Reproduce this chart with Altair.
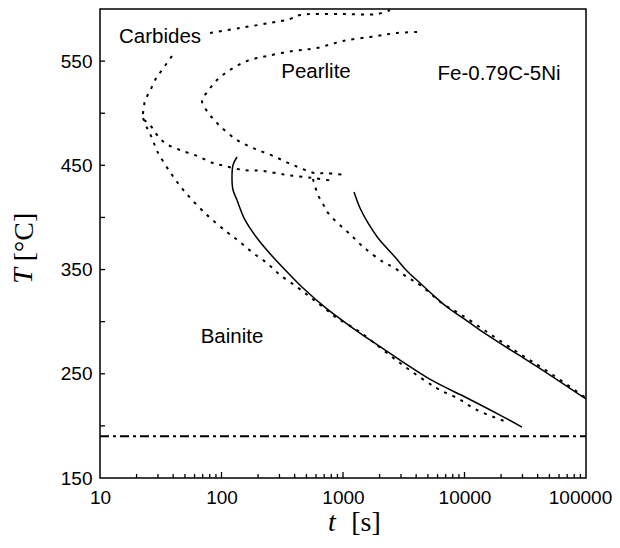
import altair as alt
import pandas as pd

# ---------------- data ----------------
# Carbides C-curve, upper branch (to the right of the label)
carb_up_t = [80.4, 142.0, 250.7, 366.3, 442.8, 944.8, 1905, 2437]
carb_up_T = [577.0, 581.8, 586.6, 590.4, 594.2, 595.2, 595.2, 599.0]
# Carbides C-curve, nose and lower branch
carb_t = [39.1, 32.4, 28.4, 25.8, 23.5, 23.0, 22.6, 25.8, 29.5, 34.3, 45.5,
          62.9, 85.1, 106.9, 150.3, 219.6, 346.0, 566.0, 827.5]
carb_T = [554.9, 541.5, 531.9, 521.3, 512.7, 505.0, 495.4, 488.7, 479.1, 471.4,
          464.7, 459.0, 452.2, 449.4, 445.5, 444.6, 440.7, 437.9, 435.0]
# Pearlite C-curve
pear_t = [4066, 2783, 1905, 1000, 611, 387.8, 236.9, 162.1, 117.5, 91.8, 77.4,
          69.1, 80.4, 97.2, 134.1, 181.6, 265.4, 387.8, 588.3, 738.5, 1038.7]
pear_T = [577.9, 577.0, 574.1, 569.3, 562.6, 559.7, 554.9, 550.1, 541.5, 531.9,
          521.3, 511.7, 498.3, 487.7, 474.3, 466.6, 459.0, 450.3, 442.6, 442.6, 440.7]
# Bainite, dotted curve (left)
bd1_t = [22.6, 24.4, 26.8, 29.5, 37.7, 50.1, 76.0, 111.0, 142.0, 181.6, 236.9,
         303.0, 418.3, 535.0, 684.7, 892.5, 1304, 1766, 2945, 4913, 6285, 8675,
         12678, 22381]
bd1_T = [495.4, 485.8, 476.2, 463.8, 443.6, 424.4, 402.3, 386.0, 376.4, 365.9,
         356.3, 344.8, 333.3, 323.7, 314.1, 303.5, 292.0, 280.5, 260.3, 242.1,
         234.4, 226.8, 215.2, 203.7]
# Bainite, solid curve (left)
bs1_t = [134.1, 124.4, 122.0, 124.4, 134.1, 156.1, 195.9, 265.4, 366.3, 468.7,
         738.5, 1141.8, 1766, 2945, 5505, 10486, 19596, 29730]
bs1_T = [458.0, 450.3, 437.9, 426.3, 416.7, 397.6, 380.3, 362.0, 344.8, 332.3,
         312.2, 295.8, 280.5, 263.2, 243.1, 226.8, 210.4, 198.9]
# Bainite, dotted curve (right)
bd2_t = [566, 622.7, 684.7, 752.6, 1000, 1186, 1380, 1576, 2134, 2579, 3363,
         4303, 6653, 9183, 15316, 27050, 47750, 100000]
bd2_T = [436.9, 421.5, 412.9, 404.3, 389.9, 382.2, 374.5, 368.8, 357.3, 352.5,
         342.9, 335.2, 317.0, 307.4, 290.1, 270.9, 252.7, 226.8]
# Bainite, solid curve (right)
bs2_t = [1231.6, 1380, 1606, 1942, 2679, 3363, 4303, 5505, 7178,
         9720, 13418, 27050, 47750, 100000]
bs2_T = [424.4, 409.1, 394.7, 380.3, 362.0, 348.6, 337.1, 325.6, 314.1,
         303.5, 292.0, 269.0, 250.7, 225.8]
# Ms line
ms_t = [10, 100000]
ms_T = [190, 190]

# labels inside the plot
lab_text = ["Carbides", "Pearlite", "Fe-0.79C-5Ni", "Bainite"]
lab_t = [31.2, 599.6, 19230, 122.0]
lab_T = [567.4, 533.8, 531.9, 279.5]

# tick values
x_labels = [10, 100, 1000, 10000, 100000]
y_labels = [150, 250, 350, 450, 550]
y_ticks = [200, 250, 300, 350, 400, 450, 500, 550]
x_major = [100, 1000, 10000]
x_minor = [m * d for d in (10, 100, 1000, 10000) for m in range(2, 10)]

# ---------------- build tables ----------------
def series(name, ts, Ts):
    return pd.DataFrame({"series": name, "i": range(len(ts)), "t": ts, "T": Ts})

dotted = pd.concat([
    series("carb_up", carb_up_t, carb_up_T),
    series("carb", carb_t, carb_T),
    series("pear", pear_t, pear_T),
    series("bd1", bd1_t, bd1_T),
    series("bd2", bd2_t, bd2_T),
])
solid = pd.concat([
    series("bs1", bs1_t, bs1_T),
    series("bs2", bs2_t, bs2_T),
])
ms = series("ms", ms_t, ms_T)
labels = pd.DataFrame({"label": lab_text, "t": lab_t, "T": lab_T})

FONT = "Liberation Sans"
SERIF = "Liberation Serif"

X = alt.X("t:Q",
          scale=alt.Scale(type="log", domain=[10, 100000], nice=False),
          axis=alt.Axis(values=x_labels, format="d", title=None, grid=False,
                        ticks=False, domain=False, labelFontSize=19,
                        labelFont=FONT, labelColor="black", labelPadding=10,
                        labelFlush=False, labelOverlap=False,
                        labelOffset={"condition": {"test": "datum.value == 100000",
                                                   "value": -6},
                                     "value": 0}))
Y = alt.Y("T:Q",
          scale=alt.Scale(domain=[150, 600], nice=False, zero=False),
          axis=alt.Axis(values=y_labels, title=None, grid=False, ticks=False,
                        domain=False, labelFontSize=19, labelFont=FONT,
                        labelColor="black", labelPadding=8))

dotted_layer = alt.Chart(dotted).mark_line(
    color="black", strokeWidth=2, strokeDash=[3, 6],
    interpolate="catmull-rom", clip=True
).encode(x=X, y=Y, detail="series:N", order="i:Q")

solid_layer = alt.Chart(solid).mark_line(
    color="black", strokeWidth=1.5, interpolate="catmull-rom", clip=True
).encode(x=X, y=Y, detail="series:N", order="i:Q")

ms_layer = alt.Chart(ms).mark_line(
    color="black", strokeWidth=2, strokeDash=[9, 4, 3, 4], clip=True
).encode(x=X, y=Y, order="i:Q")

text_layer = alt.Chart(labels).mark_text(
    font=FONT, fontSize=20.5, align="center", baseline="alphabetic", color="black"
).encode(x=X, y=Y, text="label:N")

H = 469
ytick_layer = alt.Chart(pd.DataFrame({"T": y_ticks})).mark_rule(
    color="black", strokeWidth=1.3
).encode(y=Y, x=alt.value(0), x2=alt.value(5))

xmaj_layer = alt.Chart(pd.DataFrame({"t": x_major})).mark_rule(
    color="black", strokeWidth=1.3
).encode(x=X, y=alt.value(H), y2=alt.value(H - 6))

xmin_layer = alt.Chart(pd.DataFrame({"t": x_minor})).mark_rule(
    color="black", strokeWidth=1.3
).encode(x=X, y=alt.value(H), y2=alt.value(H - 4))

# axis titles (italic variable + roman unit)
ytitle_T = alt.Chart(pd.DataFrame({"s": ["T"]})).mark_text(
    font=SERIF, fontStyle="italic", fontSize=28, angle=270,
    align="center", baseline="middle", color="black"
).encode(text="s:N", x=alt.value(-76), y=alt.value(267))
ytitle_u = alt.Chart(pd.DataFrame({"s": ["[°C]"]})).mark_text(
    font=SERIF, fontSize=28, angle=270,
    align="center", baseline="middle", color="black"
).encode(text="s:N", x=alt.value(-75), y=alt.value(228))
xtitle_t = alt.Chart(pd.DataFrame({"s": ["t"]})).mark_text(
    font=SERIF, fontStyle="italic", fontSize=28,
    align="center", baseline="middle", color="black"
).encode(text="s:N", x=alt.value(232), y=alt.value(514))
xtitle_u = alt.Chart(pd.DataFrame({"s": ["[s]"]})).mark_text(
    font=SERIF, fontSize=28,
    align="center", baseline="middle", color="black"
).encode(text="s:N", x=alt.value(266), y=alt.value(514))

chart = alt.layer(
    ms_layer, dotted_layer, solid_layer, text_layer,
    ytick_layer, xmaj_layer, xmin_layer,
    ytitle_T, ytitle_u, xtitle_t, xtitle_u
).properties(
    width=486, height=H,
    autosize=alt.AutoSizeParams(type="none"),
    padding={"left": 92, "top": 1, "right": 26, "bottom": 62},
    background="white",
).configure_view(stroke="black", strokeWidth=1.5)

chart.save("out.html", embed_options={"renderer": "svg", "actions": False})
